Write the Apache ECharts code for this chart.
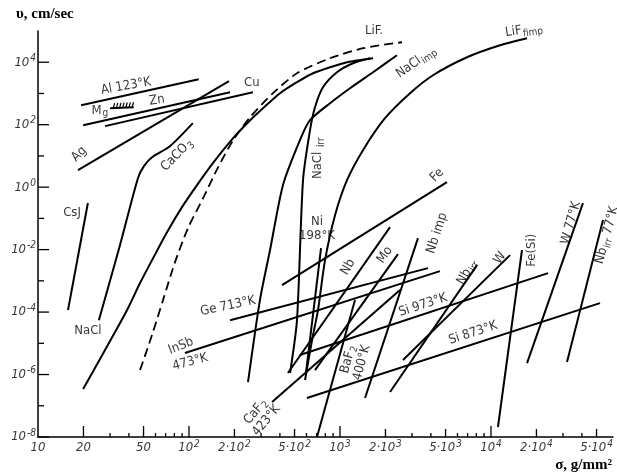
<!DOCTYPE html>
<html><head><meta charset="utf-8">
<script src="https://cdn.jsdelivr.net/npm/echarts@6/dist/echarts.min.js"></script>
<style>html,body{margin:0;padding:0;background:#fff}#c{width:617px;height:475px}</style>
</head><body><div id="c"></div>
<script>
// ---------- data (stress sigma g/mm2, velocity v cm/sec) ----------
const al123K   = [[19.3,421],[116,2860]];
const mgHatched= [[30,337],[43,363]];
const zn       = [[19.9,96],[187,1100]];
const cu       = [[27.8,90],[265,1100]];
const ag       = [[18.4,3.5],[184,2470]];
const csj      = [[15.8,1.16e-4],[21.4,0.31]];
const caco3    = [[25.3,5.5e-5],[34.9,0.0139],[45.9,1.94],[50.3,4.7],[56.9,9.1],[74.8,20.5],[106,112]];
const nacl     = [[19.9,3.44e-7],[27.8,6.1e-6],[38.9,1.16e-4],[47.4,8.5e-4],[57.8,5.3e-3],[71.5,0.036],[89.9,0.229],[113,1.16],[144,5.86],[196,37],[254,139],[309,337],[401,1019],[519,2291],[663,4446],[859,6918],[1113,10000],[1655,13430]];
const lifDashed= [[47.4,1.39e-6],[56.9,1.84e-5],[67.3,2.42e-4],[80.8,3.98e-3],[98.5,0.0488],[124,0.445],[156,4.37],[196,31.9],[254,174],[360,1019],[519,4446],[859,13430],[1420,28050],[2574,43650]];
const naclImp  = [[246,5.75e-7],[295,2.42e-4],[344,9.6e-3],[419,1.16],[543,31.9],[633,139],[859,488],[1165,1472],[1655,4786],[2385,16750]];
const naclIrr  = [[467,1.12e-6],[519,5.5e-5],[569,1.67],[633,66.7],[683,363],[771,1585],[955,4786],[1219,9290],[1580,13430]];
const lifFimp  = [[587,6.67e-7],[653,1.27e-5],[715,1.16e-4],[796,4.6e-3],[927,0.127],[1113,1.67],[1420,15.3],[1986,161],[2910,1019],[4130,3837],[6940,14450],[11480,35000],[17330,58600]];
const fe       = [[413,7.3e-4],[5110,1.45]];
const ni198K   = [[596,1.2e-6],[749,0.0112]];
const ge713K   = [[187,5.5e-5],[3826,2.56e-3]];
const insb473K = [[94,4.9e-6],[4590,2.05e-3]];
const nb       = [[452,1.12e-6],[2145,0.0525]];
const mo       = [[683,1.39e-6],[2421,7.2e-3]];
const nbImp    = [[1465,1.77e-7],[3285,0.0233]];
const nbIrr    = [[2145,2.75e-7],[8080,3.19e-3]];
const w        = [[2614,2.91e-6],[13370,6.67e-3]];
const si973K   = [[543,4.2e-6],[23870,1.77e-3]];
const si873K   = [[604,1.77e-7],[52700,1.94e-4]];
const feSi     = [[11120,2.09e-8],[16040,9.6e-3]];
const w77K     = [[17330,2.33e-6],[40650,0.308]];
const nbIrr77K = [[31870,2.51e-6],[55200,0.088]];
const caf2423K = [[355,1.32e-7],[2497,5.06e-4]];
const baf2400K = [[704,1e-8],[1257,2.42e-4]];

// curve labels: [text, sigma, v, rotation deg]
const curveLabels = [
  ['Al 123°K', 38.3, 1706, 10],
  ['M{s|g}', 25.7, 291, 0],
  ['Zn', 61.4, 608, 8],
  ['Cu', 261, 2291, 0],
  ['Ag', 18.7, 11.4, 45],
  ['CaCO{s|3}', 83.3, 10.6, 45],
  ['CsJ', 16.8, 0.158, 0],
  ['NaCl', 21.4, 2.47e-5, 0],
  ['LiF.', 1679, 1.06e5, 0],
  ['LiF{s|fimp}', 16530, 1.06e5, 8],
  ['NaCl{s|imp}', 3187, 1e4, 35],
  ['NaCl {s|irr}', 715, 8.47, 90],
  ['Fe', 4390, 2.42, 45],
  ['Ni\n198°K', 704, 0.0453, 0],
  ['Nb', 1130, 2.75e-3, 60],
  ['Mo', 1986, 6.67e-3, 55],
  ['Nb imp', 4390, 0.0337, 72],
  ['Nb{s|irr}', 6940, 1.9e-3, 60],
  ['W', 11480, 5.35e-3, 55],
  ['Fe(Si)', 18700, 9.6e-3, 90],
  ['W 77°K', 33880, 0.0705, 75],
  ['Nb{s|irr} 77°K', 58600, 0.0291, 75],
  ['Ge 713°K', 181, 1.56e-4, 12],
  ['InSb', 88.5, 8.2e-6, 22],
  ['473°K', 102, 2.51e-6, 15],
  ['Si 973°K', 3545, 1.67e-4, 18],
  ['Si 873°K', 7600, 2.13e-5, 18],
  ['BaF{s|2}\n400°K', 1257, 2.7e-6, 75],
  ['CaF{s|2}\n423°K', 300, 4.7e-8, 50]
];

// axis ticks
const X_MIN = 10, X_MAX = 64270, Y_MIN = 1e-8, Y_MAX = 1e5;
const xTicksLong  = [20, 50, 100, 1000, 10000];
const xTicksMid   = [200, 500, 2000, 5000, 20000, 50000];
const xTicksShort = [30,40,60,70,80,90,300,400,600,700,800,900,3000,4000,6000,7000,8000,9000,30000,40000];
const xTickLabelValues = [10,20,50,100,200,500,1000,2000,5000,10000,20000,50000];
const xTickLabels = ['10','20','50','10{p|2}','2·10{p|2}','5·10{p|2}','10{p|3}','2·10{p|3}','5·10{p|3}','10{p|4}','2·10{p|4}','5·10{p|4}'];
const yTicksMajor = [1e-8,1e-6,1e-4,1e-2,1,1e2,1e4];
const yTicksMinor = [1e-7,1e-5,1e-3,1e-1,10,1e3];
const yTickLabels = ['10{p|-8}','10{p|-6}','10{p|-4}','10{p|-2}','10{p|0}','10{p|2}','10{p|4}'];

// ---------- chart ----------
const F = '"DejaVu Sans Condensed","Liberation Sans Narrow","DejaVu Sans",sans-serif';
const solidCurves = [al123K, mgHatched, zn, cu, ag, csj, nacl, naclImp, naclIrr, lifFimp, fe, ni198K,
  ge713K, insb473K, nb, mo, nbImp, nbIrr, w, si973K, si873K, feSi, w77K, nbIrr77K, caf2423K, baf2400K, caco3];
const curved = new Set([caco3, nacl, lifDashed, naclImp, naclIrr, lifFimp]);

const series = [];
solidCurves.forEach(d => series.push({
  type:'line', data:d, showSymbol:false, silent:true, smooth: curved.has(d) ? 0.25 : false,
  lineStyle:{color:'#000', width:2}, z:3
}));
series.push({type:'line', data:lifDashed, showSymbol:false, silent:true, smooth:0.25,
  lineStyle:{color:'#000', width:1.8, type:[9,5]}, z:3});

// hatch on Mg segment
series.push({type:'custom', silent:true, clip:false, z:3, data:[mgHatched[0]],
  renderItem:(params, api) => {
    const a = api.coord(mgHatched[0]), b = api.coord(mgHatched[1]);
    const ch = [];
    const n = 7;
    for (let i = 1; i <= n; i++) {
      const t = i/(n+0.5);
      const x = a[0] + (b[0]-a[0])*t, y = a[1] + (b[1]-a[1])*t;
      ch.push({type:'line', shape:{x1:x, y1:y, x2:x+1.5, y2:y-5}, style:{stroke:'#000', lineWidth:1.2}});
    }
    return {type:'group', children:ch};
  }});

function tickSeries(values, len, axis) {
  return {type:'custom', silent:true, clip:false, z:5,
    data: values.map(v => axis === 'x' ? [v, Y_MIN] : [X_MIN, v]),
    renderItem:(params, api) => {
      const p = api.coord([api.value(0), api.value(1)]);
      const shape = axis === 'x' ? {x1:p[0], y1:p[1], x2:p[0], y2:p[1]-len}
                                 : {x1:p[0], y1:p[1], x2:p[0]+len, y2:p[1]};
      return {type:'line', shape, style:{stroke:'#000', lineWidth:1.3}};
    }};
}
series.push(tickSeries(xTicksLong, 11, 'x'));
series.push(tickSeries(xTicksMid, 8, 'x'));
series.push(tickSeries(xTicksShort, 4, 'x'));
series.push(tickSeries(yTicksMajor, 11, 'y'));
series.push(tickSeries(yTicksMinor, 6, 'y'));

const tickRich = {
  n:{fontSize:13, fontStyle:'italic', fontFamily:F, lineHeight:14, color:'#000'},
  p:{fontSize:10, fontStyle:'italic', fontFamily:F, lineHeight:10, padding:[0,0,8,1], color:'#000'}
};
series.push({type:'scatter', silent:true, clip:false, symbolSize:0, z:6,
  data: xTickLabelValues.map((v,i) => ({value:[v, Y_MIN], name:xTickLabels[i]})),
  label:{show:true, position:'bottom', distance:4,
    formatter:p => p.name.replace(/^([^{]+)/, '{n|$1}'), rich:tickRich}});
series.push({type:'scatter', silent:true, clip:false, symbolSize:0, z:6,
  data: yTicksMajor.map((v,i) => ({value:[X_MIN, v], name:yTickLabels[i]})),
  label:{show:true, position:'left', distance:2,
    formatter:p => p.name.replace(/^([^{]+)/, '{n|$1}'), rich:tickRich}});

series.push({type:'scatter', silent:true, clip:false, symbolSize:0, z:7,
  data: curveLabels.map(l => ({value:[l[1], l[2]], name:l[0], label:{rotate:l[3]}})),
  label:{show:true, position:'inside', formatter:p => p.name, color:'#000',
    fontFamily:F, fontSize:13, lineHeight:14, align:'center', verticalAlign:'middle',
    rich:{ s:{fontSize:10, fontFamily:F, lineHeight:10, padding:[7,0,0,1], color:'#000'} }}});

const chart = echarts.init(document.getElementById('c'), null, {renderer:'canvas'});
chart.setOption({
  animation:false,
  backgroundColor:'#fff',
  grid:{left:38, right:4, top:31, bottom:38, containLabel:false},
  xAxis:{type:'log', logBase:10, min:X_MIN, max:X_MAX,
    axisLine:{show:true, lineStyle:{color:'#000', width:1.5}},
    axisTick:{show:false}, axisLabel:{show:false}, splitLine:{show:false}},
  yAxis:{type:'log', logBase:10, min:Y_MIN, max:Y_MAX,
    axisLine:{show:true, lineStyle:{color:'#000', width:1.5}},
    axisTick:{show:false}, axisLabel:{show:false}, splitLine:{show:false}},
  graphic:[
    {type:'text', left:16, top:7, style:{text:'υ, cm/sec', font:'bold 15px "Liberation Serif", serif', fill:'#000'}},
    {type:'text', right:5, top:458, style:{text:'σ, g/mm²', font:'bold 15px "Liberation Serif", serif', fill:'#000'}}
  ],
  series
});
</script>
</body></html>
